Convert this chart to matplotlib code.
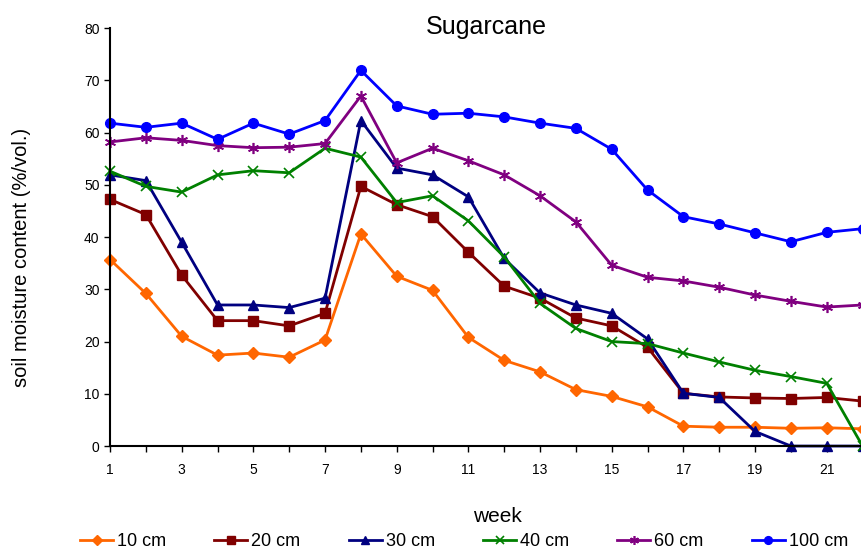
import matplotlib
matplotlib.use('Agg')
import matplotlib.pyplot as plt

weeks = list(range(1, 23))

d10 = [35.7, 29.2, 21.0, 17.4, 17.8, 17.0, 20.3, 40.6, 32.5, 29.8, 20.8,
       16.4, 14.2, 10.8, 9.5, 7.5, 3.8, 3.6, 3.6, 3.4, 3.5, 3.3]
d20 = [47.2, 44.3, 32.7, 24.0, 24.0, 23.0, 25.4, 49.7, 46.2, 43.9, 37.1,
       30.6, 28.3, 24.5, 23.0, 18.9, 10.1, 9.4, 9.2, 9.1, 9.3, 8.6]
d30 = [51.9, 50.8, 39.0, 27.0, 27.0, 26.5, 28.3, 62.3, 53.2, 51.9, 47.7,
       35.9, 29.3, 27.0, 25.4, 20.5, 10.1, 9.3, 2.8, 0.0, 0.0, 0.0]
d40 = [52.6, 49.7, 48.6, 51.9, 52.7, 52.3, 57.0, 55.3, 46.6, 47.9, 43.1,
       36.2, 27.3, 22.5, 20.0, 19.6, 17.8, 16.1, 14.5, 13.3, 12.0, 0.0]
d60 = [58.2, 59.0, 58.5, 57.5, 57.1, 57.2, 57.9, 67.0, 54.2, 57.0, 54.6,
       51.9, 47.9, 42.9, 34.6, 32.3, 31.6, 30.4, 28.9, 27.7, 26.6, 27.0]
d100 = [61.8, 61.0, 61.8, 58.7, 61.8, 59.7, 62.3, 71.9, 65.1, 63.5, 63.7,
        63.0, 61.8, 60.8, 56.8, 49.0, 43.9, 42.5, 40.8, 39.1, 40.9, 41.6]

plt.rcParams['font.family'] = ['Liberation Sans', 'DejaVu Sans']

fig = plt.figure(figsize=(8.61, 5.5), dpi=100)
ax = fig.add_axes([0.1278, 0.189, 0.874, 0.760])

ax.plot(weeks, d10, color='#FF6600', marker='D', markersize=6, lw=2, label='10 cm', clip_on=False)
ax.plot(weeks, d20, color='#800000', marker='s', markersize=6.5, lw=2, label='20 cm', clip_on=False)
ax.plot(weeks, d30, color='#000080', marker='^', markersize=7, lw=2, label='30 cm', clip_on=False)
ax.plot(weeks, d40, color='#008000', marker='x', markersize=7, mew=1.2, lw=2, label='40 cm', clip_on=False)
ax.plot(weeks, d60, color='#800080', marker=(6, 2, 0), markersize=8, mew=1.2, lw=2, label='60 cm', clip_on=False)
ax.plot(weeks, d100, color='#0000FF', marker='o', markersize=7, lw=2, label='100 cm', clip_on=False)

ax.set_xlim(1, 22)
ax.set_ylim(0, 80)
ax.set_xticks(weeks)
ax.set_xticklabels([str(w) if w % 2 == 1 else '' for w in weeks])
ax.set_yticks(range(0, 81, 10))
ax.tick_params(axis='both', labelsize=10, direction='out', length=4, width=1)
ax.tick_params(axis='x', pad=8)
for s in ['top', 'right']:
    ax.spines[s].set_visible(False)
for s in ['left', 'bottom']:
    ax.spines[s].set_linewidth(1.5)

ax.set_title('Sugarcane', fontsize=18, pad=0, x=0.5, y=0.985)
ax.set_ylabel('soil moisture content (%/vol.)', fontsize=14.5)
ax.yaxis.set_label_coords(-0.105, 0.452)
ax.set_xlabel('week', fontsize=15)
ax.xaxis.set_label_coords(0.515, -0.146)

fig.legend(loc='lower left', bbox_to_anchor=(0.0929, 0.0), ncol=6, frameon=False,
           fontsize=13, handlelength=1.83, handletextpad=0.22, columnspacing=2.67,
           markerscale=0.8, borderpad=0, borderaxespad=0)

fig.savefig('out.png', dpi=100)
